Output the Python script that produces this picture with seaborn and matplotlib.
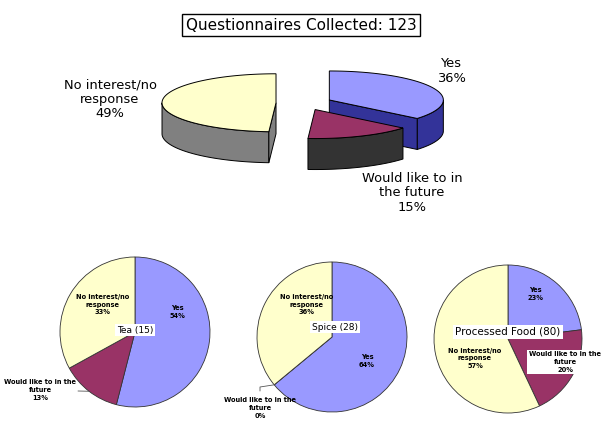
import numpy as np
import matplotlib.pyplot as plt
import seaborn as sns
from matplotlib.patches import Polygon

# Data
categories = ["Yes", "Would like to in the future", "No interest/no response"]
total_collected = 123
overall_pct = [36, 15, 49]

pie_names = ["Tea", "Spice", "Processed Food"]
pie_counts = [15, 28, 80]
tea_pct = [54, 13, 33]
spice_pct = [64, 0, 36]
processed_pct = [23, 20, 57]

big_labels = ["Yes", "Would like to in\nthe future", "No interest/no\nresponse"]
small_labels = ["Yes", "Would like to in the\nfuture", "No interest/no\nresponse"]

top_colors = ["#9999FF", "#993366", "#FFFFCC"]
side_colors = ["#333399", "#333333", "#808080"]

W, H = 605, 434


def yu(y):
    # pixel row (from top) -> axes y (from bottom)
    return H - y


def draw_3d_pie(ax, values, cx, cy, rx, ry, depth, explode):
    fracs = np.array(values, dtype=float) / sum(values)
    start = 90.0
    slices = []
    for i, f in enumerate(fracs):
        t1, t2 = start, start - 360 * f
        start = t2
        mid = np.radians((t1 + t2) / 2)
        ox = cx + explode * np.cos(mid)
        oy = cy + explode * ry / rx * np.sin(mid)
        slices.append((i, t1, t2, ox, oy))

    def pt(ox, oy, a):
        a = np.radians(a)
        return ox + rx * np.cos(a), oy + ry * np.sin(a)

    # back slices first
    for i, t1, t2, ox, oy in sorted(slices, key=lambda s: -s[4]):
        kw = dict(facecolor=side_colors[i], edgecolor="black", linewidth=0.7)
        # outer wall, front half only
        for k in range(-2, 2):
            lo, hi = max(t2, -180 + 360 * k), min(t1, 360 * k)
            if hi <= lo:
                continue
            th = np.radians(np.linspace(lo, hi, 80))
            xs = ox + rx * np.cos(th)
            ys = oy + ry * np.sin(th)
            poly = np.column_stack([np.r_[xs, xs[::-1]], np.r_[ys, ys[::-1] - depth]])
            ax.add_patch(Polygon(poly, **kw))
        # radial cut faces facing the viewer
        for a, vis in ((t1, np.cos(np.radians(t1)) < 0), (t2, np.cos(np.radians(t2)) > 0)):
            if vis:
                px, py = pt(ox, oy, a)
                ax.add_patch(Polygon([(ox, oy), (px, py), (px, py - depth), (ox, oy - depth)], **kw))
        # top face
        th = np.radians(np.linspace(t2, t1, 120))
        poly = np.column_stack([np.r_[ox, ox + rx * np.cos(th)], np.r_[oy, oy + ry * np.sin(th)]])
        ax.add_patch(Polygon(poly, facecolor=top_colors[i], edgecolor="black", linewidth=0.7))


def slice_edge(values, idx, cx, cy, r):
    fracs = np.array(values, dtype=float) / sum(values)
    t1 = 90 - 360 * fracs[:idx].sum()
    t2 = t1 - 360 * fracs[idx]
    m = np.radians((t1 + t2) / 2)
    return cx + r * np.cos(m), cy + r * np.sin(m)


sns.set_theme(style="white")
plt.rcParams["font.family"] = ["DejaVu Sans"]
plt.rcParams["text.color"] = "black"

fig = plt.figure(figsize=(6.05, 4.34), dpi=100)
ax = fig.add_axes([0, 0, 1, 1])

# Overall exploded 3D pie
draw_3d_pie(ax, overall_pct, 304, yu(103), 114, 29, 31, 28)
ax.text(301, yu(25), f"Questionnaires Collected: {total_collected}", ha="center", va="center",
        fontsize=11, bbox=dict(boxstyle="square,pad=0.25", fc="white", ec="black", lw=1))
big_pos = [(451, 71), (412, 193), (110, 99)]
for lab, p, (x, y) in zip(big_labels, overall_pct, big_pos):
    ax.text(x, yu(y), f"{lab}\n{p}%", ha="center", va="center", fontsize=9.4,
            linespacing=1.15)

# Small pies
pie_data = [tea_pct, spice_pct, processed_pct]
centers = [(135, 332, 75), (332, 337, 75), (508, 339, 74)]
label_pos = [
    [(177, 312), (40, 390), (103, 305)],
    [(367, 361), (260, 408), (307, 305)],
    [(535, 294), (565, 362), (475, 358)],
]
title_pos = [(135, 330, 6.5), (335, 327, 6.5), (508, 332, 7.5)]

for j, vals in enumerate(pie_data):
    cx, cy, r = centers[j]
    ax.pie(vals, colors=top_colors, startangle=90, counterclock=False,
           center=(cx, yu(cy)), radius=r,
           wedgeprops=dict(edgecolor="#333333", linewidth=0.6))
    for i, (lab, p) in enumerate(zip(small_labels, vals)):
        x, y = label_pos[j][i]
        bbox = None
        if j == 2 and i == 1:
            bbox = dict(boxstyle="square,pad=0.25", fc="white", ec="none")
        ax.text(x, yu(y), f"{lab}\n{p}%", ha="center", va="center", fontsize=4.8,
                fontweight="bold", linespacing=1.3, bbox=bbox)
    tx, ty, fs = title_pos[j]
    ax.text(tx, yu(ty), f"{pie_names[j]} ({pie_counts[j]})", ha="center", va="center",
            fontsize=fs, bbox=dict(boxstyle="square,pad=0.2", fc="white", ec="none"))

# leader lines for outside labels
ex, ey = slice_edge(tea_pct, 1, 135, yu(332), 75)
ax.plot([78, ex], [yu(391), ey], color="#555555", lw=0.6)
ex, ey = slice_edge(spice_pct, 1, 332, yu(337), 75)
ax.plot([260, 260, ex], [yu(391), yu(387), ey], color="#555555", lw=0.6)

ax.set_xlim(0, W)
ax.set_ylim(0, H)
ax.set_aspect("auto")
ax.axis("off")

fig.savefig("out.png", dpi=100)
